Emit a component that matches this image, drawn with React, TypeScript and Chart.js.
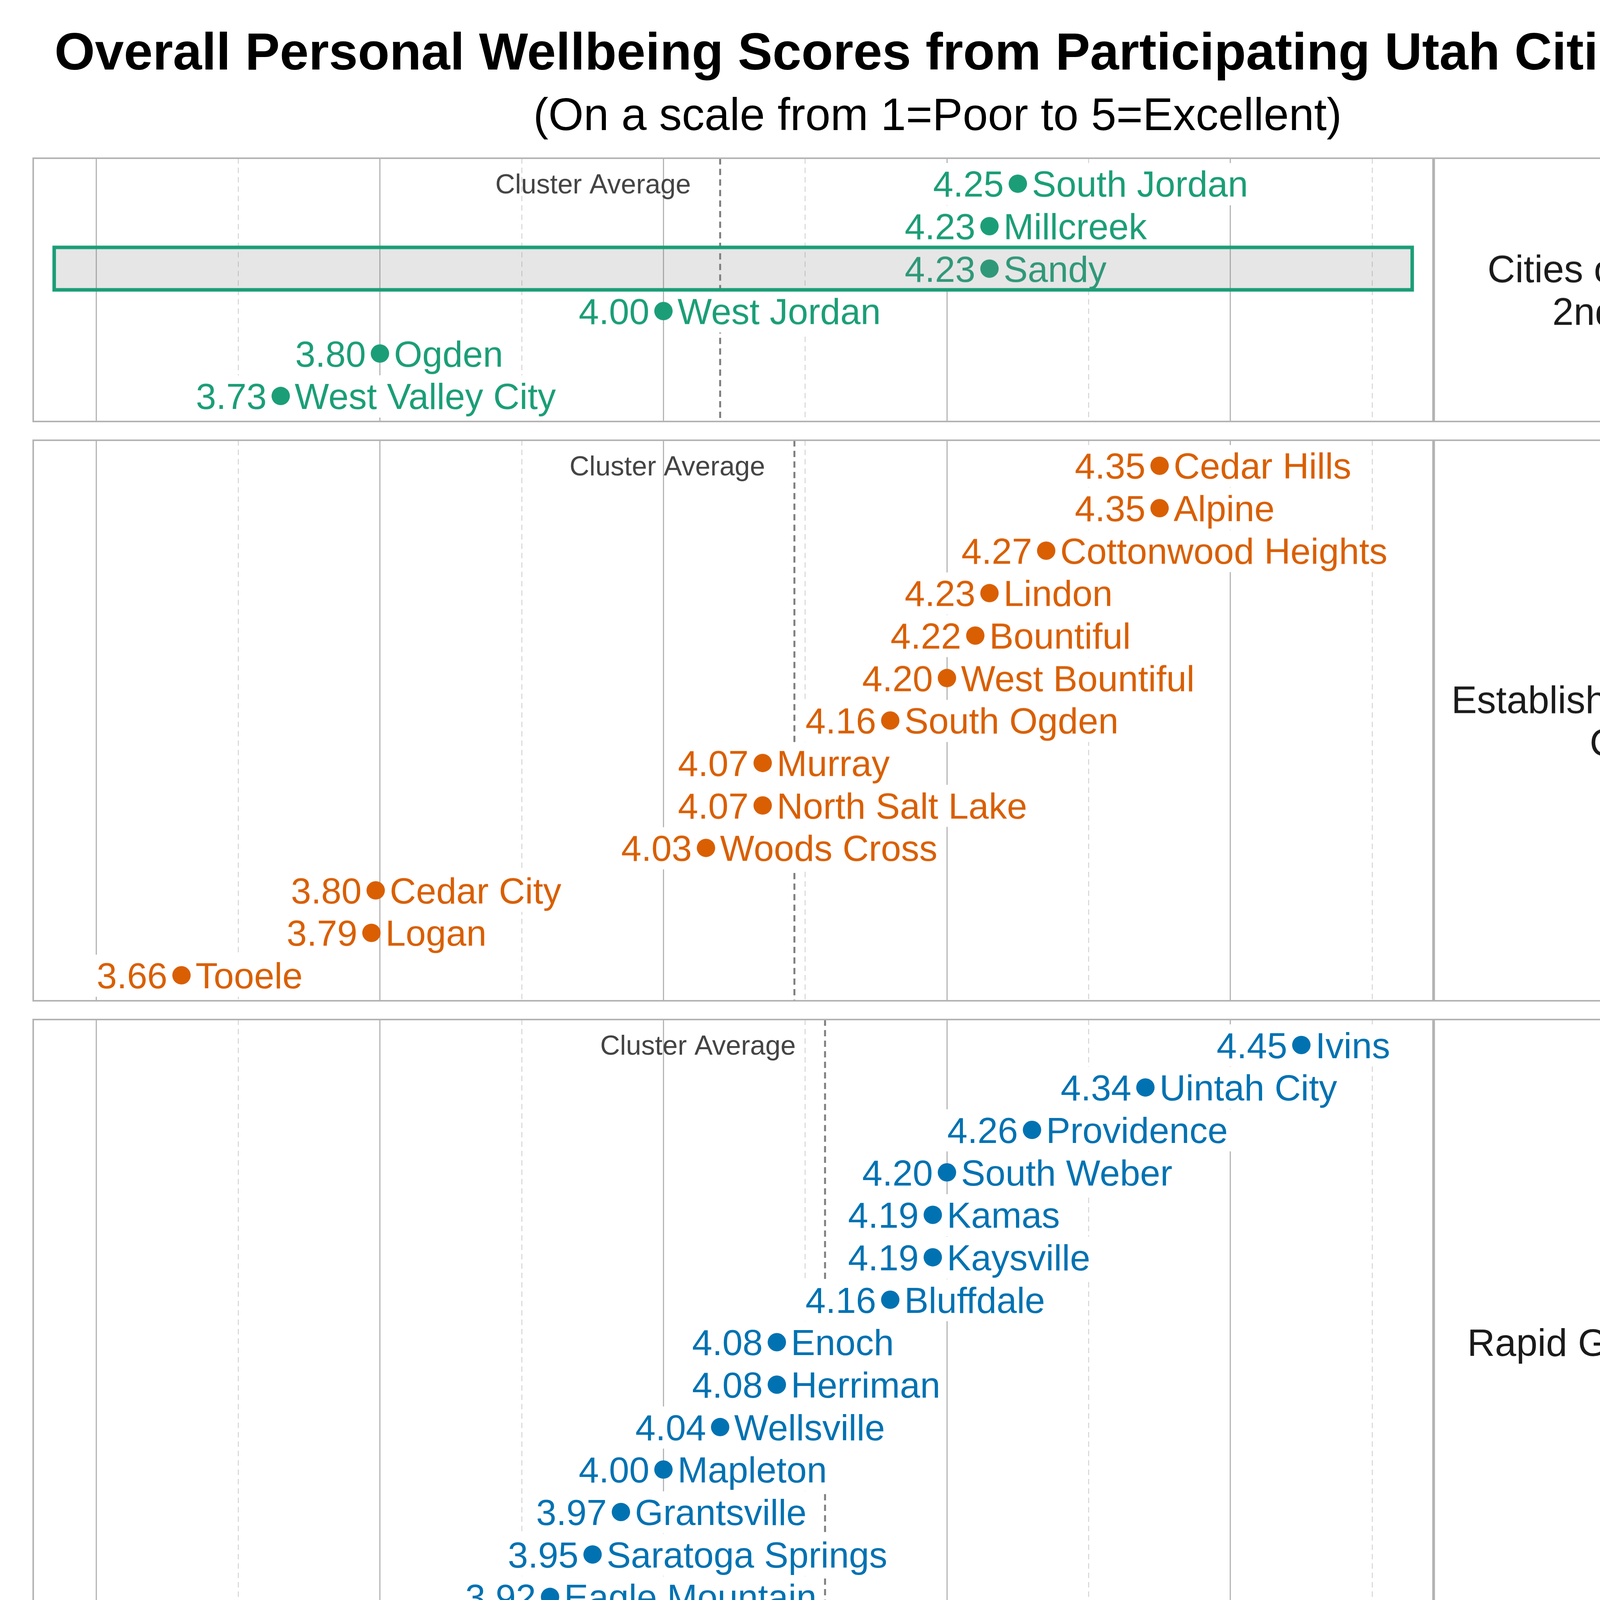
import React, { useEffect, useRef } from "react";
import { Chart, registerables } from "chart.js";

Chart.register(...registerables);

// ---------------- DATA ----------------
const TITLE = "Overall Personal Wellbeing Scores from Participating Utah Cities (2026)";
const SUBTITLE = "(On a scale from 1=Poor to 5=Excellent)";
const X_TITLE = "Average Score";
const AVG_LABEL = "Cluster Average";

const CLUSTER_LABELS = [
  ["Cities of the 1st &", "2nd Class"],
  ["Established/Mid-sized", "Cities"],
  ["Rapid Growth Cities"],
  ["Rural Hub/Resort", "Communities"],
  ["Traditional Rural", "Communities"],
];
const CLUSTER_COLORS = ["#1b9e77", "#d95f02", "#0072b2", "#b2182b", "#6a3d9a"];

const CITIES_1 = ["South Jordan", "Millcreek", "Sandy", "West Jordan", "Ogden", "West Valley City"];
const SCORES_1 = [4.25, 4.23, 4.23, 4.0, 3.8, 3.73];

const CITIES_2 = [
  "Cedar Hills", "Alpine", "Cottonwood Heights", "Lindon", "Bountiful", "West Bountiful",
  "South Ogden", "Murray", "North Salt Lake", "Woods Cross", "Cedar City", "Logan", "Tooele",
];
const SCORES_2 = [4.35, 4.35, 4.27, 4.23, 4.22, 4.2, 4.16, 4.07, 4.07, 4.03, 3.797, 3.794, 3.66];

const CITIES_3 = [
  "Ivins", "Uintah City", "Providence", "South Weber", "Kamas", "Kaysville", "Bluffdale",
  "Enoch", "Herriman", "Wellsville", "Mapleton", "Grantsville", "Saratoga Springs",
  "Eagle Mountain", "Lehi",
];
const SCORES_3 = [4.45, 4.34, 4.26, 4.2, 4.19, 4.19, 4.16, 4.08, 4.08, 4.04, 4.0, 3.97, 3.95, 3.92, 3.88];

const CITIES_4 = [
  "Alta", "Midway", "Springdale", "Morgan", "Heber", "Manila", "Nephi", "Richfield",
  "Bluff", "Moab", "Blanding", "Vernal", "Tremonton", "Wendover",
];
const SCORES_4 = [4.44, 4.38, 4.27, 4.23, 4.19, 4.13, 4.01, 3.99, 3.98, 3.81, 3.78, 3.75, 3.72, 3.67];

const CITIES_5 = [
  "Mayfield", "Toquerville", "Lewiston", "Lake Point", "La Verkin", "Orangeville",
  "Stockton", "Ferron", "Delta",
];
const SCORES_5 = [4.27, 4.24, 4.22, 4.13, 3.97, 3.96, 3.92, 3.89, 3.77];

const CITY_LISTS = [CITIES_1, CITIES_2, CITIES_3, CITIES_4, CITIES_5];
const SCORE_LISTS = [SCORES_1, SCORES_2, SCORES_3, SCORES_4, SCORES_5];

const HIGHLIGHT_CITY = "Sandy";

const X_MIN = 3.5554;
const X_MAX = 4.5433;
const GRID_VALUES = [3.6, 3.7, 3.8, 3.9, 4.0, 4.1, 4.2, 4.3, 4.4, 4.5];
const MAJOR_TICKS = [3.6, 3.8, 4.0, 4.2, 4.4];
const TICK_LABELS = ["3.6", "3.8", "4.0", "4.2", "4.4"];

// ---------------- LAYOUT / STYLE ----------------
const W = 4800;
const H = 7200;
const FONT = '"Liberation Sans", Arial, Helvetica, sans-serif';
const PLOT_LEFT = 85;
const PLOT_RIGHT = 3670;
const STRIP_RIGHT = 4714;
const FIRST_TOP = 405;
const ROW = 108.7;
const GAP = 48;
const PAD_ROWS = 0.6;
const M = 30;
const AXIS_H = 290;
const LABEL_FONT = 93;
const LABEL_OFF = 36;
const BOX_PAD = 8;
const DOT_R = 23.5;
const STRIP_FONT = 98;
const STRIP_LINE = 109;
const HL_X = [3.5702, 4.5282];

const isMajor = (v: number) => MAJOR_TICKS.some((m) => Math.abs(m - v) < 1e-6);

function panelGeometry() {
  const out: { top: number; height: number }[] = [];
  let top = FIRST_TOP;
  for (const list of CITY_LISTS) {
    const h = (list.length - 1 + 2 * PAD_ROWS) * ROW;
    out.push({ top, height: h });
    top += h + GAP;
  }
  return out;
}

function Panel({ idx, top, height, last }: { idx: number; top: number; height: number; last: boolean }) {
  const ref = useRef<HTMLCanvasElement>(null);
  const canvasH = M + height + (last ? AXIS_H : M);

  useEffect(() => {
    const canvas = ref.current!;
    const names = CITY_LISTS[idx];
    const scores = SCORE_LISTS[idx];
    const color = CLUSTER_COLORS[idx];
    const n = names.length;
    const mean = scores.reduce((a, b) => a + b, 0) / n;

    const decor = {
      id: "decor" + idx,
      beforeDatasetsDraw(chart: any) {
        const { ctx, chartArea: ca } = chart;
        const x = chart.scales.x;
        const y = chart.scales.y;
        ctx.save();
        // cluster average line
        const ax = x.getPixelForValue(mean);
        ctx.strokeStyle = "#7f7f7f";
        ctx.lineWidth = 5;
        ctx.setLineDash([16, 11]);
        ctx.beginPath();
        ctx.moveTo(ax, ca.top);
        ctx.lineTo(ax, ca.bottom);
        ctx.stroke();
        ctx.setLineDash([]);
        // value + name labels with white backgrounds
        ctx.font = `${LABEL_FONT}px ${FONT}`;
        ctx.textBaseline = "alphabetic";
        for (let i = 0; i < n; i++) {
          const px = x.getPixelForValue(scores[i]);
          const py = y.getPixelForValue(i);
          const base = py + 0.358 * LABEL_FONT;
          const vt = scores[i].toFixed(2);
          const nt = names[i];
          const vw = ctx.measureText(vt).width;
          const nw = ctx.measureText(nt).width;
          const bt = base - 0.905 * LABEL_FONT - 2;
          const bh = 1.117 * LABEL_FONT + 4;
          ctx.fillStyle = "#ffffff";
          ctx.fillRect(px - LABEL_OFF - vw - BOX_PAD, bt, vw + 2 * BOX_PAD, bh);
          ctx.fillRect(px + LABEL_OFF - BOX_PAD, bt, nw + 2 * BOX_PAD, bh);
          ctx.fillStyle = color;
          ctx.textAlign = "right";
          ctx.fillText(vt, px - LABEL_OFF, base);
          ctx.textAlign = "left";
          ctx.fillText(nt, px + LABEL_OFF, base);
        }
        ctx.restore();
      },
      afterDatasetsDraw(chart: any) {
        const { ctx, chartArea: ca } = chart;
        const x = chart.scales.x;
        const y = chart.scales.y;
        ctx.save();
        // highlight box
        const k = names.indexOf(HIGHLIGHT_CITY);
        if (k >= 0) {
          const x1 = x.getPixelForValue(HL_X[0]);
          const x2 = x.getPixelForValue(HL_X[1]);
          const y1 = y.getPixelForValue(k - 0.5);
          const y2 = y.getPixelForValue(k + 0.5);
          ctx.fillStyle = "rgba(128,128,128,0.2)";
          ctx.fillRect(x1, y1, x2 - x1, y2 - y1);
          ctx.strokeStyle = color;
          ctx.lineWidth = 9;
          ctx.strokeRect(x1, y1, x2 - x1, y2 - y1);
        }
        // cluster average label
        const ax = x.getPixelForValue(mean);
        ctx.font = `70px ${FONT}`;
        ctx.fillStyle = "#444444";
        ctx.textAlign = "right";
        ctx.textBaseline = "alphabetic";
        ctx.fillText(AVG_LABEL, ax - 75, y.getPixelForValue(0) + 0.358 * 70);
        // panel + strip borders
        ctx.strokeStyle = "#b3b3b3";
        ctx.lineWidth = 4;
        ctx.strokeRect(ca.left, ca.top, ca.right - ca.left, ca.bottom - ca.top);
        ctx.strokeRect(ca.right, ca.top, STRIP_RIGHT - ca.right, ca.bottom - ca.top);
        ctx.lineWidth = 7;
        ctx.beginPath();
        ctx.moveTo(ca.right, ca.top);
        ctx.lineTo(ca.right, ca.bottom);
        ctx.stroke();
        // strip label
        const lines = CLUSTER_LABELS[idx];
        const cx = (ca.right + STRIP_RIGHT) / 2;
        const cy = (ca.top + ca.bottom) / 2;
        ctx.font = `${STRIP_FONT}px ${FONT}`;
        ctx.fillStyle = "#1a1a1a";
        ctx.textAlign = "center";
        lines.forEach((ln, j) => {
          const ly = cy - ((lines.length - 1) * STRIP_LINE) / 2 + j * STRIP_LINE + 0.358 * STRIP_FONT;
          ctx.fillText(ln, cx, ly);
        });
        ctx.restore();
      },
    };

    const chart = new Chart(canvas, {
      type: "scatter",
      data: {
        datasets: [
          {
            data: scores.map((v, i) => ({ x: v, y: i })),
            backgroundColor: color,
            borderWidth: 0,
            pointRadius: DOT_R,
            pointHoverRadius: DOT_R,
          },
        ],
      },
      options: {
        animation: false,
        responsive: false,
        devicePixelRatio: 1,
        events: [],
        layout: { padding: { left: PLOT_LEFT, right: W - PLOT_RIGHT, top: M, bottom: last ? 0 : M } },
        plugins: { legend: { display: false }, tooltip: { enabled: false }, title: { display: false } },
        scales: {
          x: {
            type: "linear",
            position: "bottom",
            min: X_MIN,
            max: X_MAX,
            afterBuildTicks: (s: any) => {
              s.ticks = GRID_VALUES.map((v) => ({ value: v }));
            },
            afterFit: (s: any) => {
              s.height = last ? AXIS_H : 0;
            },
            grid: {
              drawTicks: false,
              color: (c: any) => (c.tick && isMajor(c.tick.value) ? "#b5b5b5" : "#cdcdcd"),
              lineWidth: (c: any) => (c.tick && isMajor(c.tick.value) ? 3 : 2),
            },
            border: {
              display: false,
              dash: (c: any) => (c.tick && isMajor(c.tick.value) ? [] : [14, 10]),
            },
            ticks: {
              display: last,
              padding: 4,
              autoSkip: false,
              maxRotation: 0,
              color: "#000000",
              font: { family: FONT, size: 72 },
              callback: (v: any) => {
                const j = MAJOR_TICKS.findIndex((m) => Math.abs(m - Number(v)) < 1e-6);
                return j >= 0 ? TICK_LABELS[j] : "";
              },
            },
            title: {
              display: last,
              text: X_TITLE,
              color: "#000000",
              font: { family: FONT, size: 80 },
              padding: { top: 0, bottom: 76 },
            },
          },
          y: {
            type: "linear",
            display: false,
            reverse: true,
            min: -PAD_ROWS,
            max: n - 1 + PAD_ROWS,
          },
        },
      },
      plugins: [decor],
    } as any);
    return () => chart.destroy();
  }, [idx, last]);

  return (
    <canvas
      ref={ref}
      width={W}
      height={canvasH}
      style={{ position: "absolute", left: 0, top: top - M, width: W, height: canvasH }}
    />
  );
}

export default function App() {
  const geo = panelGeometry();
  return (
    <div style={{ position: "absolute", left: 0, top: 0, width: W, height: H, background: "#ffffff", overflow: "hidden" }}>
      <div
        style={{
          position: "absolute", left: 0, top: 66, width: W, textAlign: "center",
          font: `bold 133px ${FONT}`, lineHeight: "133px", whiteSpace: "nowrap", color: "#000",
        }}
      >
        {TITLE}
      </div>
      <div
        style={{
          position: "absolute", left: 0, top: 235, width: W, textAlign: "center",
          font: `116px ${FONT}`, lineHeight: "116px", whiteSpace: "nowrap", color: "#000",
        }}
      >
        {SUBTITLE}
      </div>
      {geo.map((g, i) => (
        <Panel key={i} idx={i} top={g.top} height={g.height} last={i === geo.length - 1} />
      ))}
    </div>
  );
}
